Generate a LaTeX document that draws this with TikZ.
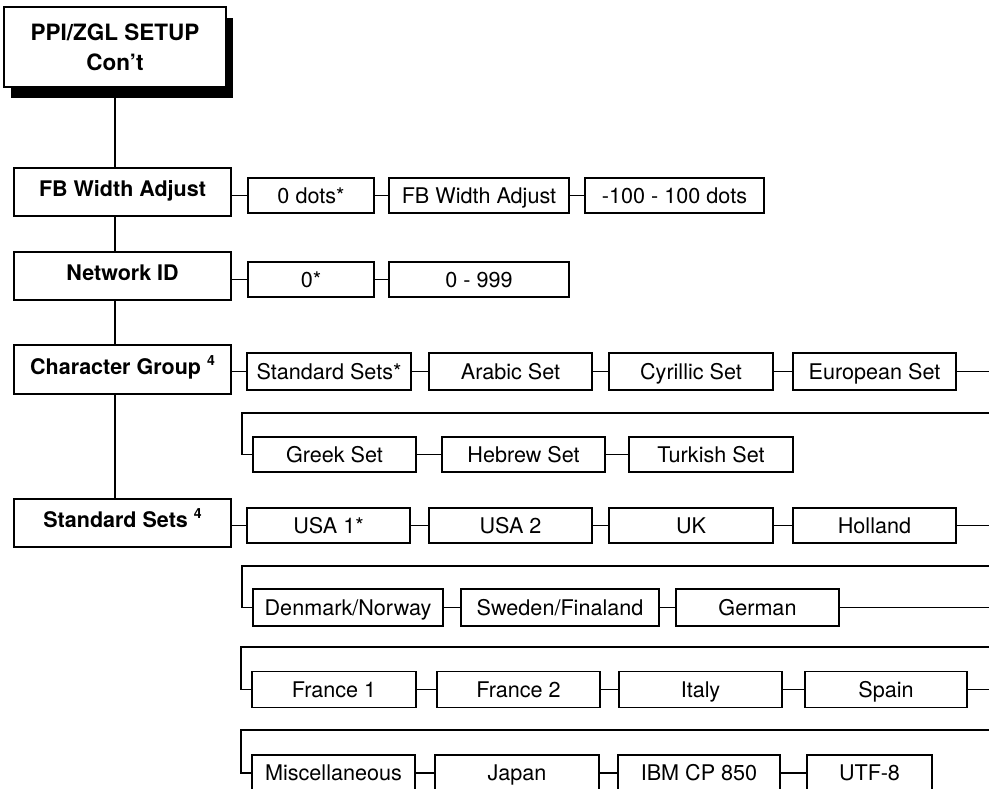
\documentclass[tikz,border=0pt]{standalone}
\usepackage{fontspec}
\setmainfont{TeX Gyre Heros}
\newcommand\supfour{\raisebox{9pt}{\fontsize{14}{14}\selectfont\bfseries 4}}
\begin{document}
\begin{tikzpicture}[x=1pt,y=-1pt,
  every node/.style={inner sep=0pt, outer sep=0pt},
  sub/.style={draw, line width=1.3pt, minimum height=35pt, text height=15pt, text depth=0pt,
    font=\fontsize{21.6}{30}\selectfont},
  mainbox/.style={draw, line width=1.8pt, minimum width=217pt, minimum height=48pt,
    text height=15pt, text depth=6pt, font=\fontsize{21.5}{30}\selectfont\bfseries},
  hdrbox/.style={draw, line width=1.8pt, fill=white, minimum width=222pt, minimum height=80pt,
    align=center, font=\fontsize{22.5}{30}\selectfont\bfseries},
  conn/.style={line width=1.4pt},
]
\clip (0,0) rectangle (989,788);
\fill[white] (0,0) rectangle (989,788);

% header with shadow
\fill[black] (11,18) rectangle (233,98);
\node[hdrbox] (hdr) at (115,47) {PPI/ZGL SETUP\\Con’t};

% main column
\node[mainbox] (fb)  at (122.5,192)   {FB Width Adjust};
\node[mainbox] (nid) at (122.5,276)   {Network ID};
\node[mainbox, minimum height=49pt] (cg) at (122.5,369.5) {Character Group \supfour};
\node[mainbox] (ss)  at (122.5,523)   {Standard Sets \supfour};

\draw[conn] (hdr.south) -- (hdr.south |- fb.north)
            (hdr.south |- fb.south) -- (hdr.south |- nid.north)
            (hdr.south |- nid.south) -- (hdr.south |- cg.north)
            (hdr.south |- cg.south) -- (hdr.south |- ss.north);

% row 1
\node[sub, minimum width=126pt] (d0)  at (311,195.5)   {0 dots*};
\node[sub, minimum width=180pt] (fbw) at (479,195.5)   {FB Width Adjust};
\node[sub, minimum width=179pt] (rng) at (674.5,195.5) {-100 - 100 dots};
\draw[conn] (fb.east |- d0.west) -- (d0.west) (d0.east) -- (fbw.west) (fbw.east) -- (rng.west);

% row 2
\node[sub, minimum width=126pt] (n0)   at (311,279.5) {0*};
\node[sub, minimum width=180pt] (n999) at (479,279.5) {0 - 999};
\draw[conn] (nid.east |- n0.west) -- (n0.west) (n0.east) -- (n999.west);

% row 3
\node[sub, minimum width=164pt, minimum height=37pt] (stds) at (329,371.5)   {Standard Sets*};
\node[sub, minimum width=163pt, minimum height=37pt] (arab) at (510.5,371.5) {Arabic Set};
\node[sub, minimum width=164pt, minimum height=37pt] (cyr)  at (691,371.5)   {Cyrillic Set};
\node[sub, minimum width=163pt, minimum height=37pt] (euro) at (874.5,371.5) {European Set};
\coordinate (e3) at (989,371.5);
\draw[conn] (cg.east |- stds.west) -- (stds.west) (stds.east) -- (arab.west)
            (arab.east) -- (cyr.west) (cyr.east) -- (euro.west) (euro.east) -- (e3);

% row 4
\node[sub, minimum width=163pt] (greek) at (334.5,454.5) {Greek Set};
\node[sub, minimum width=163pt] (hebr)  at (523.5,454.5) {Hebrew Set};
\node[sub, minimum width=164pt] (turk)  at (711,454.5)   {Turkish Set};
\coordinate (c4r) at (989,413);
\coordinate (c4l) at (242,413);
\draw[conn] (c4r) -- (c4l) |- (greek.west);
\draw[conn] (greek.east) -- (hebr.west) (hebr.east) -- (turk.west);

% row 5
\node[sub, minimum width=163pt] (usa1) at (328.5,525.5) {USA 1*};
\node[sub, minimum width=163pt] (usa2) at (510.5,525.5) {USA 2};
\node[sub, minimum width=164pt] (uk)   at (691,525.5)   {UK};
\node[sub, minimum width=163pt] (holl) at (874.5,525.5) {Holland};
\coordinate (e5) at (989,525.5);
\draw[conn] (ss.east |- usa1.west) -- (usa1.west) (usa1.east) -- (usa2.west)
            (usa2.east) -- (uk.west) (uk.east) -- (holl.west) (holl.east) -- (e5);

% row 6
\node[sub, minimum width=190pt, minimum height=37pt] (denm) at (348,607.5)   {Denmark/Norway};
\node[sub, minimum width=198pt, minimum height=37pt] (swed) at (560,607.5)   {Sweden/Finaland};
\node[sub, minimum width=163pt, minimum height=37pt] (germ) at (757.5,607.5) {German};
\coordinate (c6r) at (989,566);
\coordinate (c6l) at (242,566);
\coordinate (e6) at (989,607.5);
\draw[conn] (c6r) -- (c6l) |- (denm.west);
\draw[conn] (denm.east) -- (swed.west) (swed.east) -- (germ.west) (germ.east) -- (e6);

% row 7
\node[sub, minimum width=164pt, minimum height=36pt] (fr1)   at (334,689.5)   {France 1};
\node[sub, minimum width=163pt, minimum height=36pt] (fr2)   at (518.5,689.5) {France 2};
\node[sub, minimum width=163pt, minimum height=36pt] (italy) at (700.5,689.5) {Italy};
\node[sub, minimum width=162pt, minimum height=36pt] (spain) at (886,689.5)   {Spain};
\coordinate (c7r) at (989,647);
\coordinate (c7l) at (241,647);
\coordinate (e7) at (989,689.5);
\draw[conn] (c7r) -- (c7l) |- (fr1.west);
\draw[conn] (fr1.east) -- (fr2.west) (fr2.east) -- (italy.west) (italy.east) -- (spain.west) (spain.east) -- (e7);

% row 8
\node[sub, minimum width=163pt, minimum height=36pt] (misc)  at (333.5,773) {Miscellaneous};
\node[sub, minimum width=164pt, minimum height=36pt] (japan) at (517,773)   {Japan};
\node[sub, minimum width=162pt, minimum height=36pt] (ibm)   at (699,773)   {IBM CP 850};
\node[sub, minimum width=125pt, minimum height=36pt] (utf)   at (869.5,773) {UTF-8};
\coordinate (c8r) at (989,730);
\coordinate (c8l) at (241,730);
\draw[conn] (c8r) -- (c8l) |- (misc.west);
\draw[conn] (misc.east) -- (japan.west) (japan.east) -- (ibm.west) (ibm.east) -- (utf.west);
\end{tikzpicture}
\end{document}
